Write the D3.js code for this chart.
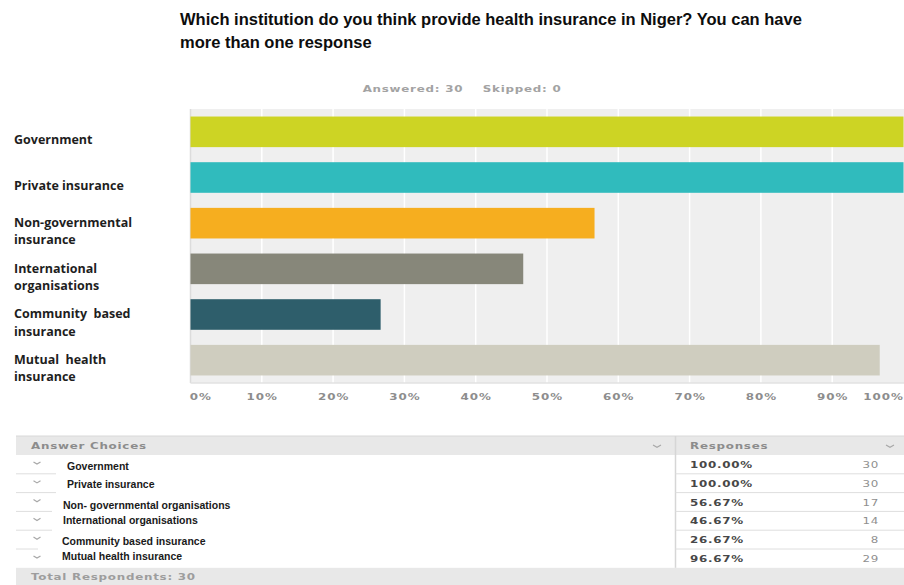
<!DOCTYPE html>
<html>
<head>
<meta charset="utf-8">
<script src="https://cdn.jsdelivr.net/npm/d3@7"></script>
<style>
  html, body { margin: 0; padding: 0; background: #fff; }
  svg { display: block; }
</style>
</head>
<body>
<svg id="chart" width="904" height="585"></svg>
<script>
// Survey question, answer choices and response counts
const titleLines = [
  "Which institution do you think provide health insurance in Niger? You can have",
  "more than one response"
];
const answered = 30;
const skipped = 0;
const totalRespondents = 30;

// Bar chart labels (may wrap to two lines)
const chartLabels = [
  ["Government"],
  ["Private insurance"],
  ["Non-governmental", "insurance"],
  ["International", "organisations"],
  ["Community  based", "insurance"],
  ["Mutual  health", "insurance"]
];
// Answer choice wording in the summary table
const tableLabels = [
  "Government",
  "Private insurance",
  "Non- governmental organisations",
  "International organisations",
  "Community based insurance",
  "Mutual health insurance"
];
const counts = [30, 30, 17, 14, 8, 29];
const percents = counts.map(c => c / totalRespondents * 100);
const barColors = ["#cdd424", "#30bbbd", "#f6ae1f", "#87877a", "#2e5e6b", "#cfcdbf"];
const tickValues = [0, 10, 20, 30, 40, 50, 60, 70, 80, 90, 100];

const svg = d3.select("#chart");
const wideFont = "'DejaVu Sans', Verdana, sans-serif";
const stretch = 1.25;

// Horizontally stretched UI text (survey-tool style lettering)
function wideText(parent, x, y, str, opts = {}) {
  const g = parent.append("g").attr("transform", `translate(${x},${y}) scale(${stretch},1)`);
  return g.append("text")
    .attr("font-family", wideFont)
    .attr("font-weight", opts.weight || "bold")
    .attr("font-size", opts.size || 9.5)
    .attr("letter-spacing", opts.spacing != null ? opts.spacing : 0.6)
    .attr("fill", opts.fill || "#8c8c8c")
    .attr("text-anchor", opts.anchor || "start")
    .attr("xml:space", "preserve")
    .text(str);
}

// Title
svg.append("g").selectAll("text")
  .data(titleLines)
  .join("text")
  .attr("x", 180)
  .attr("y", (d, i) => 25 + i * 23)
  .attr("font-family", "'Liberation Sans Narrow', 'Arial Narrow', sans-serif")
  .attr("font-weight", "bold")
  .attr("font-size", 16.5)
  .attr("fill", "#0d0d0d")
  .text(d => d);

// Answered / skipped summary
wideText(svg, 462, 91.5, `Answered: ${answered}    Skipped: ${skipped}`,
  { anchor: "middle", fill: "#a3a3a3" });

// Scales
const plot = { left: 190.5, right: 903.5, top: 109, bottom: 383 };
const x = d3.scaleLinear().domain([0, 100]).range([plot.left, plot.right]);
const y = d3.scaleBand().domain(d3.range(counts.length))
  .range([plot.top, plot.bottom]).paddingInner(0.33).paddingOuter(0.165);

// Plot background and grid
const g = svg.append("g");
g.append("rect")
  .attr("x", plot.left).attr("y", plot.top)
  .attr("width", 904 - plot.left).attr("height", plot.bottom - plot.top)
  .attr("fill", "#efefef");
g.selectAll("line.grid")
  .data(tickValues.slice(1, -1))
  .join("line")
  .attr("class", "grid")
  .attr("x1", d => x(d)).attr("x2", d => x(d))
  .attr("y1", plot.top).attr("y2", plot.bottom)
  .attr("stroke", "#fff").attr("stroke-width", 1.5);
g.append("line")
  .attr("x1", plot.left).attr("x2", plot.left)
  .attr("y1", plot.top).attr("y2", plot.bottom)
  .attr("stroke", "#dcdcdc").attr("stroke-width", 1.5);
g.append("line")
  .attr("x1", plot.left).attr("x2", 904)
  .attr("y1", plot.bottom).attr("y2", plot.bottom)
  .attr("stroke", "#e2e2e2").attr("stroke-width", 1.5);

// Bars
g.selectAll("rect.bar")
  .data(percents)
  .join("rect")
  .attr("class", "bar")
  .attr("x", x(0))
  .attr("y", (d, i) => y(i))
  .attr("width", d => x(d) - x(0))
  .attr("height", y.bandwidth())
  .attr("fill", (d, i) => barColors[i]);

// X axis tick labels
const xAxis = d3.axisBottom(x).tickValues(tickValues).tickFormat(d => d + "%").tickSize(0);
const ax = svg.append("g").attr("transform", `translate(0, ${plot.bottom + 7})`).call(xAxis);
ax.select(".domain").remove();
ax.selectAll("text")
  .attr("font-family", wideFont)
  .attr("font-weight", "bold")
  .attr("font-size", 9.5)
  .attr("letter-spacing", 0.8)
  .attr("fill", "#8d8d8d")
  .attr("transform", `scale(${stretch},1)`)
  .attr("text-anchor", d => d === 0 ? "start" : d === 100 ? "end" : "middle")
  .attr("dx", d => d === 0 ? -1 : 0);

// Category labels
const labelG = svg.append("g");
chartLabels.forEach((lines, i) => {
  const cy = y(i) + y.bandwidth() / 2 + 8;
  const t = labelG.append("text")
    .attr("font-family", "'Open Sans', sans-serif")
    .attr("font-weight", 700)
    .attr("font-size", 12.5)
    .attr("fill", "#1e1e1e")
    .attr("xml:space", "preserve");
  lines.forEach((ln, j) => {
    t.append("tspan")
      .attr("x", 14)
      .attr("y", cy + (j - (lines.length - 1) / 2) * 17.5 + 4.5)
      .text(ln);
  });
});

// Summary table
const tbl = { left: 16, right: 904, headTop: 436, headBottom: 455, rowH: 18.8, split: 675.5 };
const rowTop = i => tbl.headBottom + i * tbl.rowH;
const footTop = rowTop(counts.length);
const t = svg.append("g");

t.append("rect").attr("x", tbl.left).attr("y", tbl.headTop)
  .attr("width", tbl.right - tbl.left).attr("height", tbl.headBottom - tbl.headTop)
  .attr("fill", "#e8e8e8");
t.append("rect").attr("x", tbl.left).attr("y", footTop)
  .attr("width", tbl.right - tbl.left).attr("height", 585 - footTop)
  .attr("fill", "#e8e8e8");
t.append("line").attr("x1", tbl.left).attr("x2", tbl.right)
  .attr("y1", tbl.headTop).attr("y2", tbl.headTop)
  .attr("stroke", "#d8d8d8");
t.append("line").attr("x1", tbl.split).attr("x2", tbl.split)
  .attr("y1", tbl.headTop).attr("y2", footTop)
  .attr("stroke", "#d6d6d6").attr("stroke-width", 1.5);

// Row separators (the left-hand ones stop short of the answer text)
const leftRuleEnd = [56, 56, 52, 52, 38];
d3.range(1, counts.length).forEach(i => {
  t.append("line").attr("x1", tbl.split).attr("x2", tbl.right)
    .attr("y1", rowTop(i)).attr("y2", rowTop(i))
    .attr("stroke", "#dedede");
  t.append("line").attr("x1", tbl.left).attr("x2", leftRuleEnd[i - 1])
    .attr("y1", rowTop(i)).attr("y2", rowTop(i))
    .attr("stroke", "#dedede");
});

// Header text and sort carets
const caret = (cx, cy, w) => `M${cx - w},${cy - 1} L${cx},${cy + 1.2} L${cx + w},${cy - 1}`;
wideText(t, 31, 449, "Answer Choices");
wideText(t, 690, 449, "Responses");
[657, 890].forEach(cx => {
  t.append("path").attr("d", caret(cx, 446, 4)).attr("fill", "none")
    .attr("stroke", "#a8a8a8").attr("stroke-width", 1.2);
});

// Row contents
const labelX = [67, 67, 63, 63, 62, 62];
const labelShift = [2, 1, 3, 0, 2, -2];
counts.forEach((c, i) => {
  const cy = rowTop(i) + tbl.rowH / 2;
  t.append("path").attr("d", caret(37, cy - 1.5, 3.5)).attr("fill", "none")
    .attr("stroke", "#a8a8a8").attr("stroke-width", 1.2);
  t.append("text").attr("x", labelX[i]).attr("y", cy + 3.5 + labelShift[i])
    .attr("font-family", "'Liberation Sans Narrow', 'Arial Narrow', sans-serif")
    .attr("font-weight", "bold").attr("font-size", 10.5).attr("fill", "#1a1a1a")
    .text(tableLabels[i]);
  wideText(t, 690, cy + 3.5, percents[i].toFixed(2) + "%", { fill: "#474747" });
  wideText(t, 879, cy + 3.5, String(c),
    { anchor: "end", weight: "normal", fill: "#8f8f8f", spacing: 0.6 });
});

wideText(t, 31, footTop + 12, `Total Respondents: ${totalRespondents}`, { fill: "#9d9d9d" });
</script>
</body>
</html>
